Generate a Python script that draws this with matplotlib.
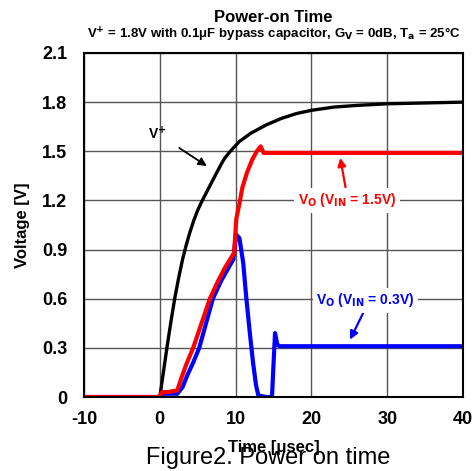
import matplotlib
matplotlib.use('Agg')
import matplotlib.pyplot as plt

plt.rcParams['font.family'] = ['Liberation Sans', 'DejaVu Sans']
plt.rcParams['axes.unicode_minus'] = False
plt.rcParams['mathtext.default'] = 'bf'

# supply voltage V+
t_vplus = [-10, 0, 0.5, 1.0, 1.5, 2.0, 2.5, 3.0, 3.5, 4.0, 4.5, 5.0, 5.5, 6.5, 7.4, 8.2, 8.6, 9.3,
           10.5, 12, 14, 16, 18, 20, 23, 26, 30, 35, 40]
v_vplus = [0, 0, 0.16, 0.32, 0.47, 0.61, 0.73, 0.84, 0.93, 1.01, 1.08, 1.14, 1.19, 1.28, 1.36, 1.43, 1.46, 1.5,
           1.56, 1.61, 1.66, 1.70, 1.73, 1.75, 1.77, 1.78, 1.79, 1.795, 1.80]

# output, VIN = 1.5V
t_out15 = [-10, -0.1, 0.3, 1.0, 2.3, 2.8, 3.5, 4.4, 5.5, 6.6, 7.6, 8.6, 9.4, 9.8, 9.9, 10.1,
           10.5, 10.9, 11.5, 12.2, 12.8, 13.3, 13.7, 14.5, 40]
v_out15 = [0, 0, 0.03, 0.03, 0.04, 0.11, 0.2, 0.3, 0.45, 0.6, 0.7, 0.79, 0.85, 0.88, 0.95, 1.09,
           1.18, 1.28, 1.37, 1.45, 1.5, 1.53, 1.49, 1.49, 1.49]

# output, VIN = 0.3V
t_out03 = [-10, 0.0, 0.5, 1.5, 2.3, 3.0, 3.6, 4.4, 5.2, 6.1, 7.0, 8.1, 9.2, 9.7, 9.9, 10.1, 10.5,
           11.0, 11.4, 11.9, 12.3, 12.7, 13.0, 14.0, 14.8, 15.0, 15.2, 15.5, 15.8, 40]
v_out03 = [0, 0, 0.02, 0.02, 0.02, 0.06, 0.13, 0.21, 0.3, 0.45, 0.6, 0.71, 0.8, 0.84, 0.93, 0.99, 0.97,
           0.82, 0.61, 0.38, 0.21, 0.07, 0.01, 0.0, 0.0, 0.2, 0.39, 0.32, 0.31, 0.31]

x_ticks = [-10, 0, 10, 20, 30, 40]
y_ticks = [0, 0.3, 0.6, 0.9, 1.2, 1.5, 1.8, 2.1]
y_tick_labels = ['0', '0.3', '0.6', '0.9', '1.2', '1.5', '1.8', '2.1']

fig = plt.figure(figsize=(4.73, 4.71), dpi=100)
ax = fig.add_axes([0.1776, 0.1571, 0.8013, 0.7304])

ax.plot(t_vplus, v_vplus, color='black', lw=2.4, zorder=3)
ax.plot(t_out03, v_out03, color='#0000ff', lw=3.0, zorder=4)
ax.plot(t_out15, v_out15, color='#ff0000', lw=3.0, zorder=5)

ax.set_xlim(-10, 40)
ax.set_ylim(0, 2.1)
ax.set_xticks(x_ticks)
ax.set_yticks(y_ticks)
ax.set_yticklabels(y_tick_labels)
ax.tick_params(axis='both', length=0, labelsize=13)
ax.tick_params(axis='y', pad=12)
ax.tick_params(axis='x', pad=10)
for lbl in ax.get_xticklabels() + ax.get_yticklabels():
    lbl.set_fontweight('bold')
ax.grid(True, color='#555555', lw=1.0, zorder=0)
for s in ax.spines.values():
    s.set_linewidth(1.5)
    s.set_zorder(6)

ax.set_ylabel('Voltage [V]', fontsize=12, fontweight='bold', labelpad=9)
ax.set_xlabel('Time [\u03bcsec]', fontsize=12, fontweight='bold', labelpad=9)

# titles
fig.text(0.578, 0.963, 'Power-on Time', ha='center', va='center', fontsize=12, fontweight='bold')
fig.text(0.578, 0.926,
         'V$^{+}$ = 1.8V with 0.1\u03bcF bypass capacitor, G$_{V}$ = 0dB, T$_{a}$ = 25\u00b0C',
         ha='center', va='center', fontsize=9.5, fontweight='bold')
fig.text(0.567, 0.027, 'Figure2. Power on time', ha='center', va='center', fontsize=17)

# annotations
ax.annotate('V$^{+}$', xy=(6.2, 1.41), xytext=(-0.4, 1.61), fontsize=10, fontweight='bold',
            ha='center', va='center',
            arrowprops=dict(arrowstyle='-|>', color='black', lw=1.3, shrinkA=9, shrinkB=0,
                            mutation_scale=12))
ax.annotate('', xy=(23.8, 1.46), xytext=(24.5, 1.28),
            arrowprops=dict(arrowstyle='-|>', color='#ff0000', lw=1.6, shrinkA=0, shrinkB=0,
                            mutation_scale=12), zorder=7)
ax.text(24.7, 1.20, 'V$_{O}$ (V$_{IN}$ = 1.5V)', color='#ff0000', fontsize=10, fontweight='bold',
        ha='center', va='center', zorder=8,
        bbox=dict(boxstyle='square,pad=0.25', fc='white', ec='none'))
ax.annotate('', xy=(25.1, 0.35), xytext=(26.9, 0.52),
            arrowprops=dict(arrowstyle='-|>', color='#0000ff', lw=1.6, shrinkA=0, shrinkB=0,
                            mutation_scale=12), zorder=7)
ax.text(27.1, 0.59, 'V$_{O}$ (V$_{IN}$ = 0.3V)', color='#0000ff', fontsize=10, fontweight='bold',
        ha='center', va='center', zorder=8,
        bbox=dict(boxstyle='square,pad=0.25', fc='white', ec='none'))

fig.savefig('out.png', dpi=100)
